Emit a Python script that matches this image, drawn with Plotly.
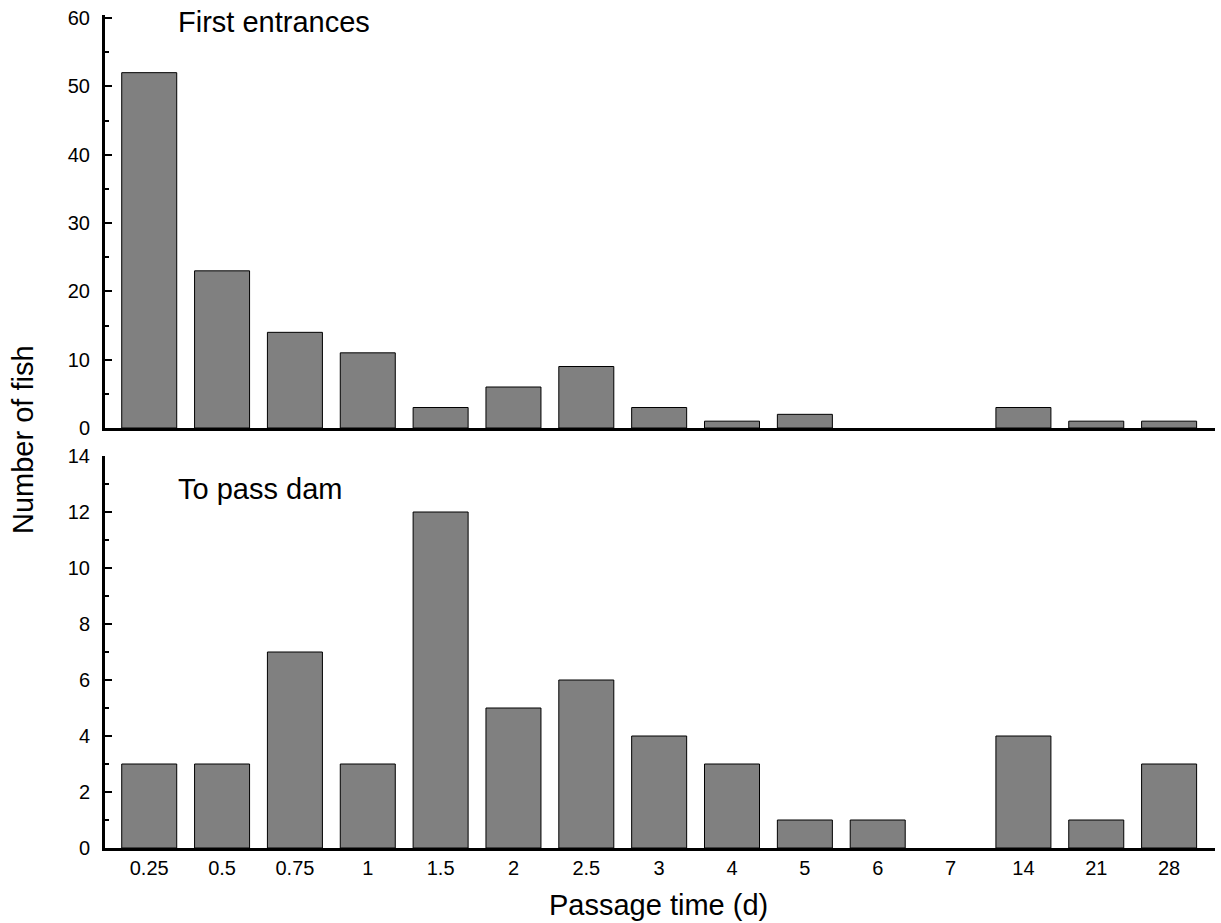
import plotly.graph_objects as go

categories = ["0.25", "0.5", "0.75", "1", "1.5", "2", "2.5", "3", "4", "5", "6", "7", "14", "21", "28"]
first_entrances = [52, 23, 14, 11, 3, 6, 9, 3, 1, 2, 0, 0, 3, 1, 1]
to_pass_dam = [3, 3, 7, 3, 12, 5, 6, 4, 3, 1, 1, 0, 4, 1, 3]

W, H = 1221, 923
FONT = "Liberation Sans, Arial, sans-serif"

def px_x(p):
    return p / W

def px_y(p):
    return 1 - p / H

def bar_marker(values):
    return dict(color="#808080", line=dict(color="black", width=[1 if v > 0 else 0 for v in values]))

fig = go.Figure()
fig.add_trace(go.Bar(x=categories, y=first_entrances, xaxis="x", yaxis="y",
                     marker=bar_marker(first_entrances), showlegend=False))
fig.add_trace(go.Bar(x=categories, y=to_pass_dam, xaxis="x2", yaxis="y2",
                     marker=bar_marker(to_pass_dam), showlegend=False))

xdom = [px_x(105), px_x(1215)]
xrange_ = [-0.607, 14.63]

common_x = dict(domain=xdom, range=xrange_, type="category", showline=True, linecolor="black",
                linewidth=3, ticks="", showgrid=False, zeroline=False, automargin=False,
                tickfont=dict(family=FONT, size=20, color="black"))
common_y = dict(showline=True, linecolor="black", linewidth=3, ticks="inside", ticklen=7,
                tickwidth=1.5, tickcolor="black", showgrid=False, zeroline=False, automargin=False,
                ticklabelstandoff=8,
                tickfont=dict(family=FONT, size=20, color="black"))

fig.update_layout(
    template="none",
    width=W, height=H,
    margin=dict(l=0, r=0, t=0, b=0, autoexpand=False),
    paper_bgcolor="white", plot_bgcolor="white",
    bargap=0.245,
    xaxis=dict(anchor="y", showticklabels=False, **common_x),
    xaxis2=dict(anchor="y2", showticklabels=True, **common_x),
    yaxis=dict(domain=[px_y(428), px_y(15)], range=[0, 60.44], anchor="x", tickvals=[0, 10, 20, 30, 40, 50, 60],
               minor=dict(dtick=5, tick0=0, ticks="inside", ticklen=4, tickwidth=1.5, tickcolor="black"),
               **common_y),
    yaxis2=dict(domain=[px_y(848), px_y(456)], range=[0, 14], anchor="x2", tickvals=[0, 2, 4, 6, 8, 10, 12, 14],
                minor=dict(dtick=1, tick0=0, ticks="inside", ticklen=4, tickwidth=1.5, tickcolor="black"),
                **common_y),
    annotations=[
        dict(text="First entrances", x=px_x(176), y=px_y(22), xref="paper", yref="paper",
             xanchor="left", yanchor="middle", showarrow=False, font=dict(family=FONT, size=29, color="black")),
        dict(text="To pass dam", x=px_x(176), y=px_y(489), xref="paper", yref="paper",
             xanchor="left", yanchor="middle", showarrow=False, font=dict(family=FONT, size=29, color="black")),
        dict(text="Passage time (d)", x=px_x(658), y=px_y(905), xref="paper", yref="paper",
             xanchor="center", yanchor="middle", showarrow=False, font=dict(family=FONT, size=29, color="black")),
        dict(text="Number of fish", x=px_x(23), y=px_y(440), xref="paper", yref="paper", textangle=-90,
             xanchor="center", yanchor="middle", showarrow=False, font=dict(family=FONT, size=29, color="black")),
    ],
)

fig.write_html("out.html")
